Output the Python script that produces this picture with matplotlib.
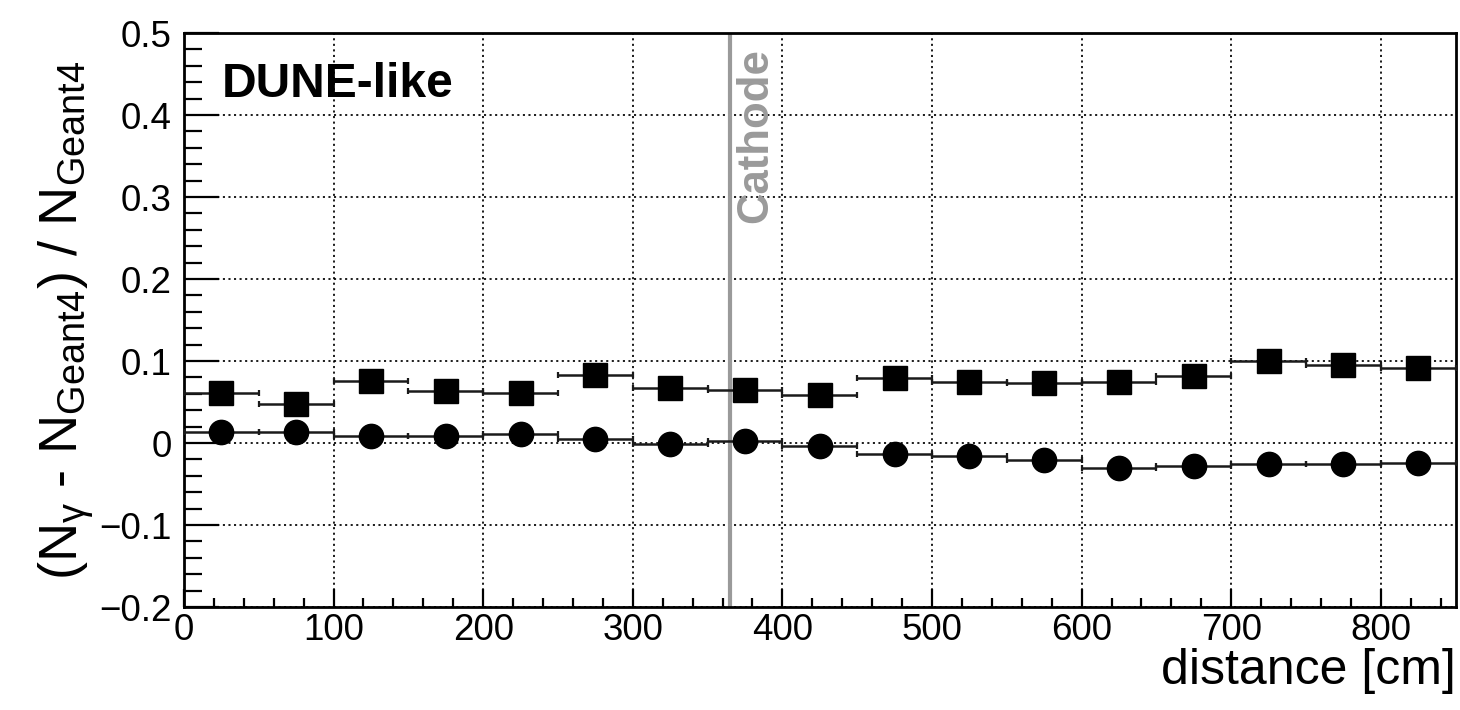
import matplotlib
matplotlib.use("Agg")
import matplotlib.pyplot as plt
from matplotlib.ticker import MultipleLocator, FuncFormatter

plt.rcParams['font.family'] = ['Liberation Sans', 'DejaVu Sans']
plt.rcParams['mathtext.fontset'] = 'custom'
plt.rcParams['mathtext.rm'] = 'Liberation Sans'
plt.rcParams['mathtext.it'] = 'Liberation Sans'
plt.rcParams['mathtext.bf'] = 'Liberation Sans:bold'
plt.rcParams['mathtext.default'] = 'regular'

# Bin centres along the drift distance [cm] and half bin width
distance_cm = [25, 75, 125, 175, 225, 275, 325, 375, 425,
               475, 525, 575, 625, 675, 725, 775, 825]
bin_half_width = 25

# Relative difference of photon counts w.r.t. Geant4
rel_diff_squares = [0.061, 0.048, 0.076, 0.063, 0.061, 0.083, 0.067, 0.065, 0.058,
                    0.079, 0.075, 0.073, 0.074, 0.082, 0.100, 0.095, 0.092]
rel_diff_circles = [0.013, 0.014, 0.008, 0.009, 0.011, 0.005, -0.001, 0.003, -0.004,
                    -0.013, -0.016, -0.021, -0.031, -0.028, -0.025, -0.025, -0.024]

cathode_position = 365
x_range = [0, 850]
y_range = [-0.2, 0.5]

fig = plt.figure(figsize=(14.6, 7.1), dpi=100)
ax = fig.add_axes([0.126, 0.145, 0.871, 0.8085])

ax.set_xlim(*x_range)
ax.set_ylim(*y_range)

# grid
ax.grid(True, which='major', color='black', linestyle=(0, (1.2, 2.0)), linewidth=1.25)
ax.set_axisbelow(True)

# cathode
ax.axvline(cathode_position, color='#9a9a9a', linewidth=3.0, zorder=2)
ax.text(382, 0.482, 'Cathode', rotation=90, ha='center', va='top',
        fontsize=31.5, fontweight='bold', color='#9a9a9a', zorder=2)

err_kw = dict(fmt='none', ecolor='#1a1a1a', elinewidth=1.8, capsize=2.4,
              capthick=1.6, zorder=3)
ax.errorbar(distance_cm, rel_diff_squares, xerr=bin_half_width, **err_kw)
ax.errorbar(distance_cm, rel_diff_circles, xerr=bin_half_width, **err_kw)
ax.plot(distance_cm, rel_diff_squares, linestyle='none', marker='s',
        markersize=17.5, color='black', zorder=4)
ax.plot(distance_cm, rel_diff_circles, linestyle='none', marker='o',
        markersize=17.5, color='black', zorder=4)

ax.text(0.03, 0.91, 'DUNE-like', transform=ax.transAxes, ha='left', va='center',
        fontsize=34.5, fontweight='bold', color='black')

# axes styling
for sp in ax.spines.values():
    sp.set_linewidth(2.0)
    sp.set_color('black')

ax.xaxis.set_major_locator(MultipleLocator(100))
ax.xaxis.set_minor_locator(MultipleLocator(20))
ax.yaxis.set_major_locator(MultipleLocator(0.1))
ax.yaxis.set_minor_locator(MultipleLocator(0.02))


def fmt_y(v, pos):
    if abs(v) < 1e-9:
        return '0'
    s = f'{v:.1f}'
    return s.replace('-', '\u2212')


def fmt_x(v, pos):
    return f'{int(round(v))}'


ax.yaxis.set_major_formatter(FuncFormatter(fmt_y))
ax.xaxis.set_major_formatter(FuncFormatter(fmt_x))

ax.tick_params(axis='both', which='both', direction='in', top=False, right=False,
               width=1.6, labelsize=26.5)
ax.tick_params(axis='y', which='major', length=25, pad=9)
ax.tick_params(axis='y', which='minor', length=13)
ax.tick_params(axis='x', which='major', length=13, pad=4)
ax.tick_params(axis='x', which='minor', length=6.5)

ax.set_xlabel('distance [cm]', fontsize=36, loc='right', labelpad=0)
ax.set_ylabel(r'(N$_{\gamma}$ - N$_{Geant4}$) / N$_{Geant4}$', fontsize=39,
              labelpad=2)

fig.savefig('out.png', dpi=100, facecolor='white')
